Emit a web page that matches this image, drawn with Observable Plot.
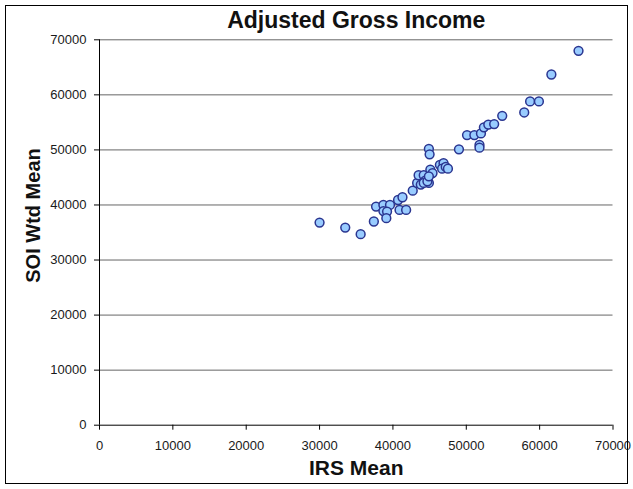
<!DOCTYPE html>
<html>
<head>
<meta charset="utf-8">
<script src="https://cdn.jsdelivr.net/npm/d3@7"></script>
<script src="https://cdn.jsdelivr.net/npm/@observablehq/plot@0.6"></script>
<style>
  html, body { margin: 0; padding: 0; background: #fff; }
  svg { font-family: "Liberation Sans", Arial, sans-serif; display: block; }
</style>
</head>
<body>
<div id="chart"></div>
<script>
const title = "Adjusted Gross Income";
const xLabel = "IRS Mean";
const yLabel = "SOI Wtd Mean";
const tickValues = [0, 10000, 20000, 30000, 40000, 50000, 60000, 70000];

const irsMean = [
  30000, 33500, 35600, 37400, 37700, 38700, 39600, 38700, 39200, 39100,
  40700, 41300, 40900, 41800, 42700, 43300, 43800, 43500, 44200, 44400,
  44900, 45100, 45400, 44900, 45000, 49000, 46400, 46900, 46700, 47200,
  47500, 50100, 51100, 52000, 51800, 51800, 52400, 53000, 53800, 54900,
  57900, 58700, 59900, 61600, 65300, 44200, 44700, 44900
];
const soiMean = [
  36800, 35900, 34700, 37000, 39700, 40000, 40000, 38900, 38800, 37600,
  40900, 41400, 39100, 39100, 42600, 44000, 43700, 45400, 45400, 44400,
  44000, 46400, 45800, 50200, 49200, 50100, 47300, 47600, 46600, 46900,
  46600, 52700, 52700, 53000, 50900, 50400, 54100, 54600, 54700, 56200,
  56800, 58800, 58800, 63700, 68000, 44000, 44300, 45200
];

const points = irsMean.map((x, i) => ({x, y: soiMean[i]}));
const fmt = d3.format("d");

const chart = Plot.plot({
  width: 633,
  height: 489,
  marginLeft: 99,
  marginRight: 20.5,
  marginTop: 39.3,
  marginBottom: 64.3,
  style: {fontFamily: '"Liberation Sans", Arial, sans-serif', fontSize: "13px", color: "#000", background: "#fff"},
  x: {domain: [0, 70000], label: null},
  y: {domain: [0, 70000], label: null},
  marks: [
    Plot.gridY(tickValues.filter(d => d > 0), {stroke: "#666", strokeOpacity: 1, strokeWidth: 1}),
    Plot.axisX(tickValues, {tickSize: 5, tickPadding: 11, tickFormat: fmt, stroke: "#000", fill: "#1a1a1a", fontSize: 13}),
    Plot.axisY(tickValues, {tickSize: 5, tickPadding: 8, tickFormat: fmt, stroke: "#000", fill: "#1a1a1a", fontSize: 13}),
    Plot.ruleX([0], {stroke: "#000", strokeWidth: 1}),
    Plot.ruleY([0], {stroke: "#000", strokeWidth: 1}),
    Plot.dot(points, {x: "x", y: "y", r: 4.4, fill: "#99ccff", stroke: "#2a3590", strokeWidth: 1.5}),
    Plot.text([title], {frameAnchor: "top", dy: -19, fontSize: 23, fontWeight: "bold", fill: "#111", lineAnchor: "middle"}),
    Plot.text([xLabel], {frameAnchor: "bottom", dy: 43, fontSize: 21, fontWeight: "bold", fill: "#111", lineAnchor: "middle"}),
    Plot.text([yLabel], {frameAnchor: "left", dx: -66, dy: -17, rotate: -90, textAnchor: "middle", fontSize: 20, fontWeight: "bold", fill: "#111", lineAnchor: "middle"})
  ]
});

d3.select(chart).append("rect")
  .attr("x", 5.5).attr("y", 5.5)
  .attr("width", 622).attr("height", 478)
  .attr("fill", "none").attr("stroke", "#000").attr("stroke-width", 1);

document.getElementById("chart").appendChild(chart);
</script>
</body>
</html>
